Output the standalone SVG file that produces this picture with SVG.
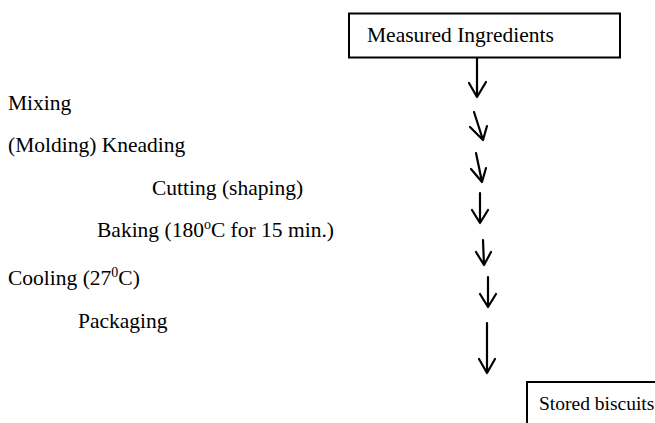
<svg xmlns="http://www.w3.org/2000/svg" width="655" height="423" viewBox="0 0 655 423">
<style>
text{font-family:"Liberation Serif","Times New Roman",serif;font-size:21.5px;fill:#000}
.sup{font-size:14px}
.box{fill:#fff;stroke:#000;stroke-width:2}
.arr{fill:none;stroke:#000;stroke-width:2.2;stroke-linecap:round;stroke-linejoin:round}
</style>
<rect width="655" height="423" fill="#fff"/>
<g id="node-measured">
<rect class="box" x="349" y="13.5" width="271" height="44"/>
<text x="367" y="42">Measured Ingredients</text>
</g>
<g id="node-stored">
<path d="M527,423 V382 H655" fill="none" stroke="#000" stroke-width="2"/>
<text x="539" y="410" style="font-size:19.5px">Stored biscuits</text>
</g>
<g id="labels">
<text x="8" y="110">Mixing</text>
<text x="8" y="152">(Molding) Kneading</text>
<text x="152" y="195">Cutting (shaping)</text>
<text x="97" y="237">Baking (180<tspan class="sup" dy="-8">o</tspan><tspan dy="8">C for 15 min.)</tspan></text>
<text x="8" y="285">Cooling (27<tspan class="sup" dy="-8">0</tspan><tspan dy="8">C)</tspan></text>
<text x="78" y="328">Packaging</text>
</g>
<g id="connectors">
<path class="arr" d="M477,58 V97 M469,83 L477,97 L486,82"/>
<path class="arr" d="M474,112 L483,140 M470,127 L483,140 L487,126"/>
<path class="arr" d="M476,153 L482,182 M471,169 L482,182 L486,168"/>
<path class="arr" d="M480,193 V223 M472,210 L480,223 L488,210"/>
<path class="arr" d="M483,240 L484,265 M476,252 L484,265 L491,252"/>
<path class="arr" d="M488,277 V307 M480,294 L488,307 L496,294"/>
<path class="arr" d="M487,323 V373 M479,359 L487,373 L495,359"/>
</g>
</svg>
